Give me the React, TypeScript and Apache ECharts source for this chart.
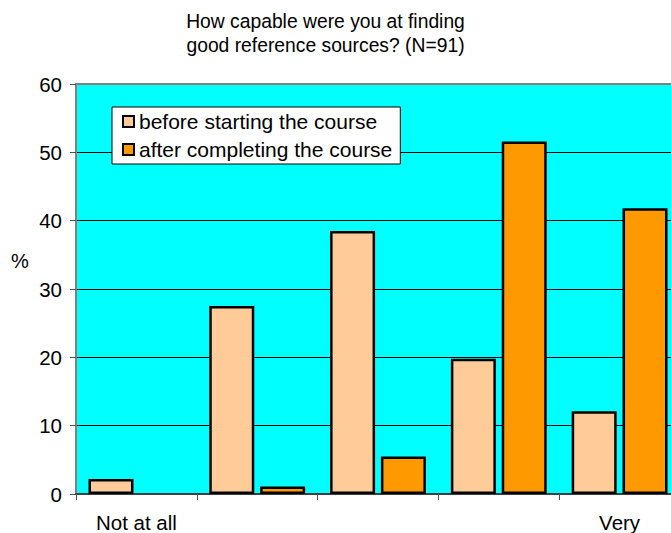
import React, { useEffect, useRef } from "react";
import * as echarts from "echarts";

const categories = ["Not at all", "", "", "", "Very"];
const beforeValues = [2.2, 27.5, 38.5, 19.8, 12.1];
const afterValues = [0, 1.1, 5.5, 51.6, 41.8];
const seriesNames = ["before starting the course", "after completing the course"];
const titleText = "How capable were you at finding\ngood reference sources? (N=91)";
const yAxisName = "%";

export default function App() {
  const ref = useRef<HTMLDivElement>(null);
  useEffect(() => {
    document.body.style.margin = "0";
    const chart = echarts.init(ref.current!, null, { renderer: "svg" });
    const font = "'Liberation Sans', Arial, sans-serif";
    const toData = (arr: number[]) =>
      arr.map((v) => (v === 0 ? { value: v, itemStyle: { borderWidth: 0, opacity: 0 } } : v));
    chart.setOption({
      animation: false,
      backgroundColor: "#ffffff",
      textStyle: { fontFamily: font },
      graphic: [
        {
          type: "text",
          x: 325.5,
          y: 10,
          style: {
            text: titleText,
            textAlign: "center",
            fontSize: 19.3,
            lineHeight: 23.5,
            fontFamily: font,
            fill: "#000",
          },
        },
        {
          type: "text",
          x: 11,
          y: 261,
          style: {
            text: yAxisName,
            fontSize: 20,
            fontFamily: font,
            fill: "#000",
            textVerticalAlign: "middle",
          },
        },
      ],
      grid: {
        left: 76,
        top: 84,
        width: 604,
        height: 412,
        show: true,
        backgroundColor: "#00FFFF",
        borderColor: "#808080",
        borderWidth: 2,
      },
      legend: {
        orient: "vertical",
        left: 112,
        top: 107,
        backgroundColor: "#ffffff",
        borderColor: "#000",
        borderWidth: 1,
        borderRadius: 0,
        padding: [4, 8, 4, 10],
        itemGap: 7,
        itemWidth: 11,
        itemHeight: 11,
        icon: "rect",
        textStyle: { fontSize: 21, fontFamily: font, color: "#000" },
        data: seriesNames,
      },
      xAxis: {
        type: "category",
        data: categories,
        axisLine: { lineStyle: { color: "#404040", width: 2 } },
        axisTick: { show: true, alignWithLabel: false, length: 6, lineStyle: { color: "#505050", width: 1 } },
        axisLabel: { interval: 0, fontSize: 20.5, color: "#000", margin: 18 },
      },
      yAxis: {
        type: "value",
        min: 0,
        max: 60,
        interval: 10,
        axisLine: { show: true, lineStyle: { color: "#808080", width: 2 } },
        axisTick: { show: true, length: 6, lineStyle: { color: "#505050" } },
        axisLabel: { fontSize: 20.5, color: "#000", margin: 14 },
        splitLine: {
          show: true,
          lineStyle: {
            color: ["#000", "#000", "#000", "#000", "#000", "#000", "#808080"],
            width: 1,
          },
        },
      },
      series: [
        {
          name: seriesNames[0],
          type: "bar",
          data: toData(beforeValues),
          barWidth: 45,
          barGap: "13%",
          itemStyle: { color: "#FFCC99", borderColor: "#000", borderWidth: 2.5 },
        },
        {
          name: seriesNames[1],
          type: "bar",
          data: toData(afterValues),
          barWidth: 45,
          barGap: "13%",
          itemStyle: { color: "#FF9900", borderColor: "#000", borderWidth: 2.5 },
        },
      ],
    });
    return () => chart.dispose();
  }, []);
  return (
    <div style={{ width: 671, height: 533, overflow: "hidden", position: "relative" }}>
      <div ref={ref} style={{ width: 700, height: 533 }} />
    </div>
  );
}
